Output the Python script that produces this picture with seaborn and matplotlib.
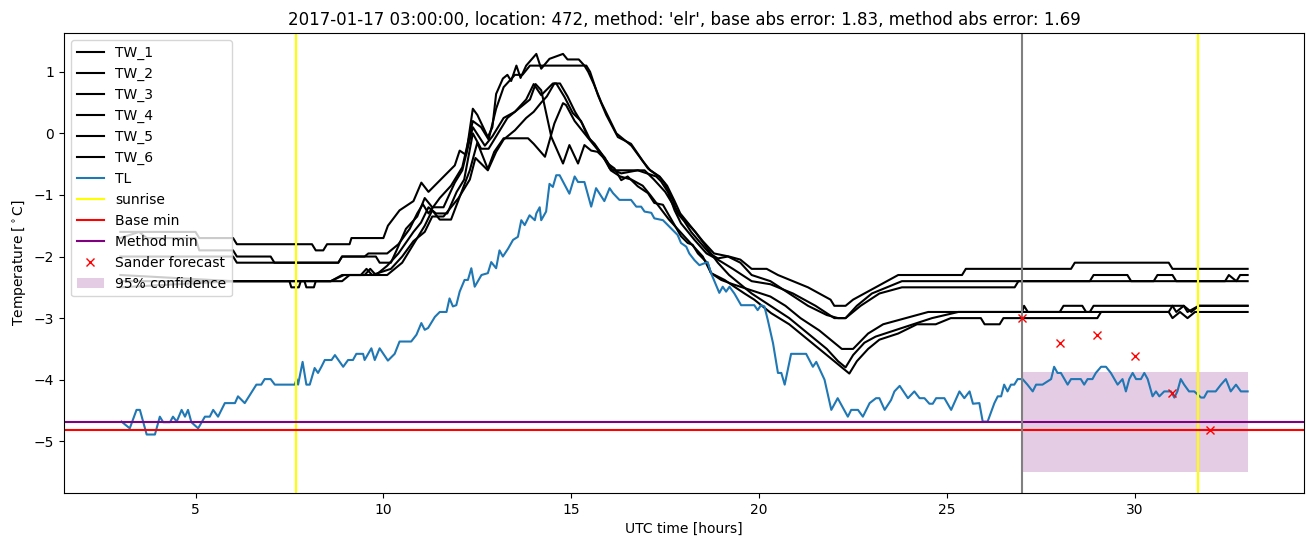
import matplotlib
matplotlib.use("Agg")
import matplotlib.pyplot as plt
import seaborn as sns
import pandas as pd

# ---------------- data ----------------
tw1_t = [3.0, 5.0, 5.1, 6.0, 6.1, 8.1, 8.2, 8.4, 8.5, 9.1, 9.15, 10.0, 10.12, 10.43, 10.8, 11.01, 11.2, 11.59,
         11.9, 12.03, 12.2, 12.38, 12.5, 12.78, 12.9, 13.0, 13.18, 13.3, 13.4, 13.54, 13.65, 13.8, 14.07, 14.2,
         14.42, 14.78, 14.9, 15.2, 15.35, 15.45, 15.6, 15.8, 16.0, 16.2, 16.4, 16.6, 16.9, 17.1, 17.35, 17.55,
         17.75, 17.9, 18.1, 18.3, 18.5, 18.8, 19.2, 19.5, 19.8, 20.2, 20.5, 20.9, 21.3, 21.6, 21.9, 22.0, 22.3,
         22.5, 22.8, 23.1, 23.4, 23.7, 25.4, 25.5, 28.3, 28.4, 30.9, 31.0, 33.0]
tw1_v = [-1.6, -1.6, -1.7, -1.7, -1.8, -1.8, -1.9, -1.9, -1.8, -1.8, -1.7, -1.7, -1.5, -1.25, -1.1, -0.8, -0.95, -0.71,
         -0.52, -0.28, -0.35, 0.4, 0.3, -0.06, 0.1, 0.64, 0.89, 0.95, 0.85, 1.1, 0.9, 1.1, 1.29, 1.05,
         1.21, 1.29, 1.2, 1.2, 1.1, 1.0, 0.8, 0.5, 0.25, 0.0, -0.1, -0.2, -0.45, -0.6, -0.7, -0.85,
         -1.1, -1.3, -1.45, -1.6, -1.75, -1.95, -2.0, -2.05, -2.2, -2.2, -2.3, -2.4, -2.5, -2.6, -2.7, -2.8, -2.8,
         -2.7, -2.6, -2.5, -2.4, -2.3, -2.3, -2.2, -2.2, -2.1, -2.1, -2.2, -2.2]

tw2_t = [3.0, 3.5, 3.7, 5.0, 5.1, 6.0, 6.1, 7.0, 7.1, 8.8, 8.9, 9.5, 9.6, 10.1, 10.4, 10.7, 10.9, 11.05, 11.2,
         11.5, 11.8, 12.1, 12.38, 12.6, 12.8, 13.0, 13.2, 13.5, 13.7, 13.9, 14.2, 14.6, 15.4, 15.5, 15.71, 15.93,
         16.24, 16.59, 16.86, 17.04, 17.35, 17.48, 17.7, 17.83, 18.01, 18.19, 18.37, 18.68, 18.9, 19.17, 19.5,
         19.8, 20.3, 20.8, 21.3, 21.8, 22.1, 22.3, 22.6, 23.0, 23.4, 23.8, 33.0]
tw2_v = [-1.7, -1.6, -1.7, -1.7, -1.9, -1.9, -2.0, -2.0, -2.1, -2.1, -2.0, -2.0, -1.95, -1.95, -1.8, -1.55, -1.3, -1.15, -1.3,
         -1.05, -0.85, -0.55, 0.2, 0.1, -0.1, 0.4, 0.75, 0.95, 0.95, 1.1, 1.1, 1.1, 1.1, 1.0, 0.62, 0.3,
         -0.06, -0.17, -0.41, -0.57, -0.71, -0.81, -1.08, -1.3, -1.43, -1.6, -1.73, -1.95, -2.03, -2.0, -2.1,
         -2.3, -2.4, -2.6, -2.8, -2.95, -3.0, -3.0, -2.8, -2.6, -2.5, -2.4, -2.4]

tw3_t = [3.0, 6.0, 6.1, 8.8, 8.9, 9.8, 9.9, 10.2, 10.35, 10.6, 10.9, 11.1, 11.3, 11.6, 11.9, 12.1, 12.38, 12.7,
         12.9, 13.2, 13.5, 13.8, 14.0, 14.2, 14.51, 14.6, 14.82, 15.04, 15.26, 15.44, 15.62, 15.8, 16.02, 16.33,
         16.77, 17.26, 17.39, 17.57, 17.75, 17.92, 18.28, 18.6, 18.9, 19.3, 19.8, 20.3, 20.9, 21.5, 22.0, 22.3,
         22.7, 23.2, 23.8, 26.8, 26.9, 28.8, 28.9, 29.8, 29.9, 30.5, 30.6, 31.0, 31.1, 32.4, 32.5, 32.7, 32.8, 33.0]
tw3_v = [-2.0, -2.0, -2.1, -2.1, -2.0, -2.0, -2.1, -2.1, -1.9, -1.55, -1.35, -1.05, -1.2, -1.2, -0.8, -0.6, 0.1, -0.2,
         -0.05, 0.25, 0.35, 0.55, 0.8, 0.62, 0.81, 0.81, 0.59, 0.33, 0.2, -0.06, -0.17, -0.33, -0.57, -0.65,
         -0.6, -0.7, -0.78, -0.95, -1.25, -1.46, -1.73, -1.95, -2.05, -2.2, -2.4, -2.45, -2.6, -2.8, -3.0, -3.0,
         -2.8, -2.6, -2.5, -2.5, -2.4, -2.4, -2.3, -2.3, -2.4, -2.4, -2.3, -2.3, -2.4, -2.4, -2.3, -2.4, -2.3, -2.3]

tw4_t = [3.0, 6.0, 8.6, 8.95, 9.5, 9.65, 9.8, 10.1, 10.3, 10.5, 10.8, 11.1, 11.3, 11.5, 11.8, 12.05, 12.3, 12.5,
         12.78, 12.95, 13.2, 13.85, 14.0, 14.3, 14.55, 14.78, 14.86, 15.09, 15.35, 15.71, 15.97, 16.15, 16.33,
         16.5, 16.77, 17.04, 17.21, 17.44, 17.57, 17.75, 17.92, 18.1, 18.23, 18.37, 18.63, 18.72, 18.99, 19.3,
         19.8, 20.3, 20.7, 21.1, 21.6, 22.0, 22.2, 22.5, 22.9, 23.3, 23.9, 24.5, 28.0, 28.1, 28.6, 28.7, 28.8,
         28.9, 31.0, 31.1, 31.3, 31.5, 31.7, 33.0]
tw4_v = [-2.3, -2.4, -2.4, -2.3, -2.3, -2.2, -2.3, -2.3, -2.2, -2.1, -1.8, -1.5, -1.25, -1.4, -1.4, -1.0, -0.6, -0.15,
         -0.58, -0.3, -0.08, -0.08, -0.17, -0.38, 0.16, 0.49, 0.46, 0.2, 0.0, -0.27, -0.49, -0.57, -0.76,
         -0.7, -0.86, -0.97, -1.13, -1.16, -1.3, -1.49, -1.67, -1.78, -1.81, -1.95, -2.11, -2.27, -2.38, -2.45,
         -2.55, -2.65, -2.8, -3.0, -3.2, -3.4, -3.5, -3.5, -3.25, -3.1, -3.0, -2.9, -2.9, -2.8, -2.8, -2.9, -2.9,
         -2.8, -2.8, -2.9, -2.8, -2.9, -2.8, -2.8]

tw5_t = [3.0, 7.5, 7.55, 7.75, 7.8, 8.9, 9.1, 9.8, 10.1, 10.4, 10.8, 11.0, 11.2, 11.4, 11.7, 11.95, 12.15, 12.38,
         12.6, 12.8, 13.0, 13.3, 13.6, 13.9, 14.05, 14.2, 14.47, 14.78, 14.95, 15.18, 15.35, 15.53, 15.7, 15.95,
         16.1, 16.95, 17.2, 17.5, 17.75, 18.0, 18.3, 18.6, 18.9, 19.2, 19.5, 19.8, 20.3, 20.8, 21.3, 21.8, 22.1,
         22.3, 22.5, 22.8, 23.1, 23.6, 24.1, 24.6, 25.3, 27.0, 27.05, 27.15, 30.9, 31.0, 31.3, 31.4, 31.7, 33.0]
tw5_v = [-2.4, -2.4, -2.5, -2.5, -2.4, -2.4, -2.3, -2.3, -2.15, -1.95, -1.6, -1.45, -1.2, -1.3, -1.3, -0.95, -0.75, 0.0,
         -0.25, -0.25, -0.05, 0.25, 0.4, 0.55, 0.8, 0.7, -0.06, -0.49, -0.19, -0.49, -0.19, -0.28, -0.3, -0.45,
         -0.6, -0.6, -0.75, -0.95, -1.2, -1.4, -1.6, -1.85, -2.1, -2.3, -2.45, -2.6, -2.8, -3.0, -3.25, -3.5, -3.7,
         -3.8, -3.6, -3.4, -3.3, -3.2, -3.1, -3.0, -2.9, -2.9, -2.8, -2.9, -2.9, -2.8, -2.8, -2.9, -2.8, -2.8]

tw6_t = [3.0, 6.0, 7.9, 7.95, 8.15, 8.2, 8.6, 8.9, 9.4, 9.55, 9.7, 10.2, 10.5, 10.8, 11.1, 11.3, 11.6, 11.8, 12.0,
         12.3, 12.45, 12.78, 13.0, 13.2, 13.5, 13.8, 14.0, 14.2, 14.35, 14.55, 14.7, 14.9, 15.1, 15.3, 15.5, 15.7,
         15.9, 16.05, 16.3, 16.6, 16.9, 17.1, 17.35, 17.6, 17.9, 18.2, 18.5, 18.72, 19.08, 19.34, 19.61, 19.87,
         20.32, 20.8, 21.3, 21.8, 22.2, 22.4, 22.6, 22.9, 23.2, 23.7, 24.2, 24.7, 25.1, 25.9, 26.0, 26.4, 26.5,
         29.0, 29.1, 30.9, 31.0, 31.2, 31.4, 31.6, 33.0]
tw6_v = [-2.5, -2.4, -2.4, -2.5, -2.5, -2.4, -2.4, -2.3, -2.3, -2.2, -2.3, -2.2, -2.0, -1.75, -1.6, -1.35, -1.35, -1.2, -1.05,
         -0.75, -0.4, -0.6, -0.3, -0.1, 0.05, 0.25, 0.35, 0.5, 0.6, 0.81, 0.81, 0.6, 0.35, 0.15, -0.1, -0.25,
         -0.4, -0.6, -0.7, -0.75, -0.85, -1.0, -1.2, -1.4, -1.6, -1.8, -2.0, -2.27, -2.38, -2.49, -2.6, -2.7,
         -2.92, -3.1, -3.35, -3.6, -3.8, -3.9, -3.7, -3.5, -3.35, -3.25, -3.1, -3.1, -3.0, -3.0, -3.1, -3.1, -3.0,
         -3.0, -2.9, -2.9, -3.0, -2.9, -3.0, -2.9, -2.9]

tl_t = [3.03, 3.25, 3.43, 3.52, 3.70, 3.83, 3.92, 4.05, 4.14, 4.32, 4.40, 4.50, 4.63, 4.72, 4.80, 4.89, 5.07,
        5.25, 5.38, 5.47, 5.60, 5.78, 6.05, 6.13, 6.31, 6.62, 6.75, 6.84, 7.0, 7.11, 7.64, 7.69, 7.73, 7.85,
        7.95, 8.04, 8.17, 8.26, 8.35, 8.44, 8.62, 8.71, 8.93, 9.06, 9.19, 9.28, 9.46, 9.50, 9.68, 9.77, 9.90,
        10.12, 10.30, 10.43, 10.74, 10.88, 11.01, 11.10, 11.19, 11.37, 11.50, 11.68, 11.76, 11.85, 11.94, 12.03,
        12.16, 12.25, 12.34, 12.43, 12.61, 12.78, 12.87, 13.0, 13.09, 13.18, 13.32, 13.45, 13.58, 13.67, 13.76,
        13.89, 14.03, 14.07, 14.16, 14.2, 14.33, 14.42, 14.51, 14.6, 14.69, 14.95, 15.09, 15.18, 15.35, 15.53,
        15.66, 15.88, 16.02, 16.11, 16.28, 16.59, 16.73, 16.86, 16.95, 17.13, 17.21, 17.44, 17.57, 17.70, 17.83,
        17.92, 18.06, 18.14, 18.28, 18.41, 18.54, 18.63, 18.72, 18.94, 19.03, 19.12, 19.21, 19.34, 19.52, 19.87,
        19.96, 20.05, 20.14, 20.23, 20.37, 20.50, 20.59, 20.68, 20.85, 21.25, 21.43, 21.52, 21.74, 21.92, 22.09,
        22.36, 22.45, 22.63, 22.76, 22.94, 23.11, 23.20, 23.34, 23.51, 23.60, 23.74, 23.87, 23.96, 24.13, 24.27,
        24.40, 24.53, 24.62, 24.71, 24.93, 25.11, 25.33, 25.46, 25.60, 25.69, 25.86, 25.95, 26.08, 26.26, 26.35,
        26.44, 26.52, 26.61, 26.70, 26.79, 26.88, 27.01, 27.14, 27.28, 27.37, 27.54, 27.77, 27.85, 27.94, 28.03,
        28.21, 28.30, 28.56, 28.65, 28.74, 28.87, 28.96, 29.10, 29.23, 29.36, 29.54, 29.67, 29.76, 29.85, 29.94,
        30.03, 30.16, 30.25, 30.34, 30.47, 30.56, 30.65, 30.78, 30.96, 31.05, 31.13, 31.22, 31.31, 31.44, 31.58,
        31.76, 31.84, 31.93, 32.15, 32.29, 32.42, 32.55, 32.69, 32.82, 33.0]
tl_v = [-4.68, -4.79, -4.49, -4.49, -4.89, -4.89, -4.89, -4.6, -4.69, -4.69, -4.6, -4.68, -4.49, -4.6, -4.49, -4.69, -4.79,
        -4.6, -4.6, -4.49, -4.6, -4.38, -4.38, -4.27, -4.38, -4.08, -4.08, -3.99, -3.99, -4.08, -4.08, -3.99, -4.08, -3.71,
        -4.08, -4.08, -3.81, -3.89, -3.79, -3.68, -3.68, -3.6, -3.79, -3.68, -3.68, -3.58, -3.58, -3.68, -3.49, -3.68, -3.49,
        -3.69, -3.58, -3.38, -3.38, -3.27, -3.08, -3.19, -3.16, -2.98, -2.9, -2.9, -2.68, -2.81, -2.79, -2.57,
        -2.38, -2.38, -2.19, -2.49, -2.3, -2.27, -2.09, -2.19, -1.9, -2.0, -1.87, -1.73, -1.68, -1.41, -1.49,
        -1.33, -1.41, -1.3, -1.2, -1.41, -1.27, -0.82, -0.87, -0.68, -0.68, -0.98, -0.7, -0.79, -0.79, -1.19,
        -0.89, -1.1, -0.89, -0.97, -1.08, -1.08, -1.19, -1.19, -1.27, -1.29, -1.38, -1.41, -1.49, -1.57, -1.65,
        -1.78, -1.84, -1.95, -2.06, -2.14, -2.11, -2.09, -2.27, -2.59, -2.49, -2.57, -2.49, -2.6, -2.79, -2.79,
        -2.87, -2.79, -2.81, -3.03, -3.41, -3.89, -3.89, -4.08, -3.58, -3.58, -3.79, -3.71, -4.0, -4.49, -4.3,
        -4.6, -4.49, -4.49, -4.6, -4.38, -4.3, -4.3, -4.49, -4.33, -4.19, -4.1, -4.22, -4.3, -4.19, -4.3,
        -4.3, -4.39, -4.39, -4.3, -4.3, -4.49, -4.19, -4.3, -4.19, -4.39, -4.38, -4.68, -4.68, -4.38, -4.27,
        -4.27, -4.08, -4.19, -4.08, -4.08, -3.99, -3.99, -4.08, -4.19, -4.08, -4.08, -3.99, -3.79, -3.89, -3.89,
        -4.08, -3.99, -3.99, -4.08, -3.99, -3.99, -3.89, -3.79, -3.79, -3.89, -4.08, -3.99, -4.19, -3.99, -3.89,
        -3.99, -3.99, -3.89, -3.99, -4.27, -4.19, -4.27, -4.19, -4.19, -4.29, -4.19, -3.99, -4.08, -4.19, -4.19,
        -4.29, -4.29, -4.19, -4.19, -4.08, -3.99, -4.19, -4.08, -4.19, -4.19]

sunrise_hours = [7.67, 31.67]
base_min = -4.81
method_min = -4.68
forecast_start = 27.0
sander_hours = [27, 28, 29, 30, 31, 32]
sander_values = [-3.0, -3.4, -3.28, -3.61, -4.22, -4.82]
conf_hours = [27.0, 33.0]
conf_low = [-5.5, -5.5]
conf_high = [-3.88, -3.88]

title = ("2017-01-17 03:00:00, location: 472, method: 'elr', "
         "base abs error: 1.83, method abs error: 1.69")

# ---------------- plotting ----------------
fig = plt.figure(figsize=(13.13, 5.47), dpi=100)
ax = fig.add_axes([64 / 1313, 1 - 493 / 547, (1304 - 64) / 1313, (493 - 33) / 547])

tw_series = [("TW_1", tw1_t, tw1_v), ("TW_2", tw2_t, tw2_v), ("TW_3", tw3_t, tw3_v),
             ("TW_4", tw4_t, tw4_v), ("TW_5", tw5_t, tw5_v), ("TW_6", tw6_t, tw6_v)]
for name, t, v in tw_series:
    sns.lineplot(x=t, y=v, ax=ax, color="black", label=name, estimator=None, sort=False, linewidth=1.5)

sns.lineplot(x=tl_t, y=tl_v, ax=ax, color="#1f77b4", label="TL", estimator=None, sort=False, linewidth=1.5)

for i, h in enumerate(sunrise_hours):
    ax.axvline(h, color="yellow", label="sunrise" if i == 0 else None)
ax.axhline(base_min, color="red", label="Base min")
ax.axhline(method_min, color="purple", label="Method min")
ax.axvline(forecast_start, color="gray")
ax.plot(sander_hours, sander_values, "x", color="red", linestyle="none", label="Sander forecast")
ax.fill_between(conf_hours, conf_low, conf_high, color="purple", alpha=0.2, linewidth=0, label="95% confidence")

ax.set_title(title)
ax.set_xlabel("UTC time [hours]")
ax.set_ylabel(r"Temperature [$^\circ$C]")
ax.legend(loc="upper left")

fig.savefig("out.png", dpi=100)
